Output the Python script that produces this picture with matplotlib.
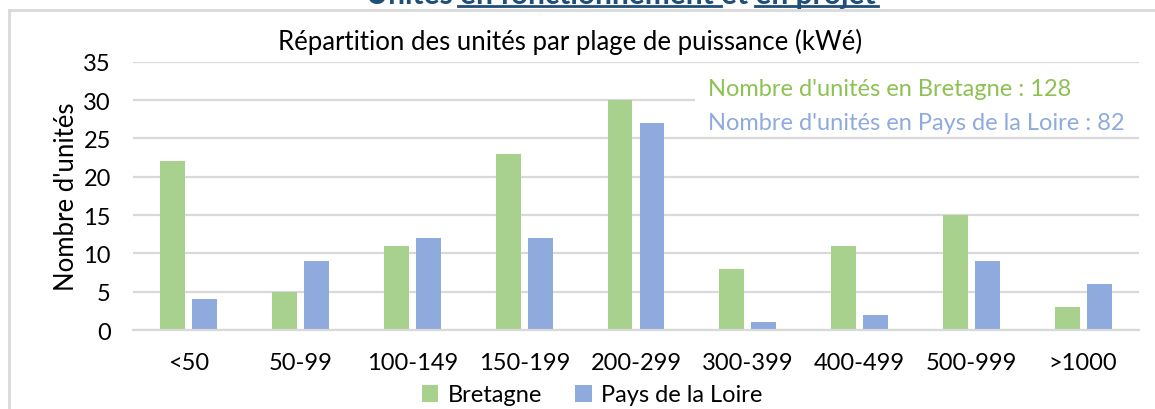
import matplotlib
matplotlib.use("Agg")
import matplotlib.pyplot as plt
from matplotlib.lines import Line2D
import numpy as np

categories = ["<50", "50-99", "100-149", "150-199", "200-299", "300-399", "400-499", "500-999", ">1000"]
bretagne = [22, 5, 11, 23, 30, 8, 11, 15, 3]
pays_loire = [4, 9, 12, 12, 27, 1, 2, 9, 6]
series_names = ["Bretagne", "Pays de la Loire"]
title = "Répartition des unités par plage de puissance (kWé)"
ylabel = "Nombre d'unités"
yticks = [0, 5, 10, 15, 20, 25, 30, 35]

GREEN = "#A9D18E"
BLUE = "#8FAADC"
GREEN_TXT = "#8DC153"
GRID = "#D9D9D9"

plt.rcParams['font.family'] = ['Lato', 'DejaVu Sans']

W, H = 1155, 410
fig = plt.figure(figsize=(W / 100, H / 100), dpi=100)

def fx(px):
    return px / W

def fy(py):
    return 1 - py / H

ax = fig.add_axes([fx(133), fy(331), fx(1139) - fx(133), fy(62.7) - fy(331)])

x = np.arange(len(categories))
bw = 0.223
off = 0.143
ax.bar(x - off, bretagne, bw, color=GREEN, label=series_names[0], zorder=2)
ax.bar(x + off, pays_loire, bw, color=BLUE, label=series_names[1], zorder=2)

ax.set_xlim(-0.5, len(categories) - 0.5)
ax.set_ylim(0, 35)
ax.set_yticks(yticks)
ax.set_xticks(x)
ax.set_xticklabels(categories)
ax.grid(axis='y', color=GRID, linewidth=1.6, zorder=0)
ax.set_axisbelow(True)
for s in ['top', 'right', 'left']:
    ax.spines[s].set_visible(False)
ax.spines['bottom'].set_color(GRID)
ax.spines['bottom'].set_linewidth(1.6)
ax.tick_params(axis='both', length=0, labelsize=17, colors='black')
ax.tick_params(axis='y', pad=16)
ax.tick_params(axis='x', pad=16)
ax.set_ylabel(ylabel, fontsize=18.5, labelpad=3)

fig.text(fx(570), fy(42), title, ha='center', va='center', fontsize=18.5, color='black')

# annotation box
tot_b = sum(bretagne)
tot_p = sum(pays_loire)
ax.add_patch(plt.Rectangle((fx(695), fy(137)), fx(1145) - fx(695), fy(68) - fy(137),
                           transform=fig.transFigure, facecolor='white', edgecolor='none', zorder=3))
fig.text(fx(708), fy(89), f"Nombre d'unités en Bretagne : {tot_b}", ha='left', va='center',
         fontsize=17, color=GREEN_TXT, zorder=4)
fig.text(fx(708), fy(124), f"Nombre d'unités en Pays de la Loire : {tot_p}", ha='left', va='center',
         fontsize=17, color=BLUE, zorder=4)

leg = fig.legend(loc='center', bbox_to_anchor=(fx(592), fy(396)), ncol=2, frameon=False,
                 fontsize=17, handlelength=0.7, handleheight=0.7, handletextpad=0.4,
                 columnspacing=1.4)

# frame border
fig.add_artist(Line2D([fx(9), fx(9)], [fy(11), 0], transform=fig.transFigure, color=GRID, linewidth=2))
fig.add_artist(Line2D([fx(9), 1], [fy(11), fy(11)], transform=fig.transFigure, color=GRID, linewidth=2))

# cropped page heading
fig.text(fx(366), fy(4), "Unités en fonctionnement et en projet", ha='left', va='baseline',
         fontsize=21.5, fontweight='bold', color='#1F4E79')
fig.add_artist(Line2D([fx(458), fx(721)], [fy(6.5), fy(6.5)], transform=fig.transFigure, color='#1F4E79', linewidth=2))
fig.add_artist(Line2D([fx(755), fx(878)], [fy(6.5), fy(6.5)], transform=fig.transFigure, color='#1F4E79', linewidth=2))

fig.savefig("out.png", dpi=100)
